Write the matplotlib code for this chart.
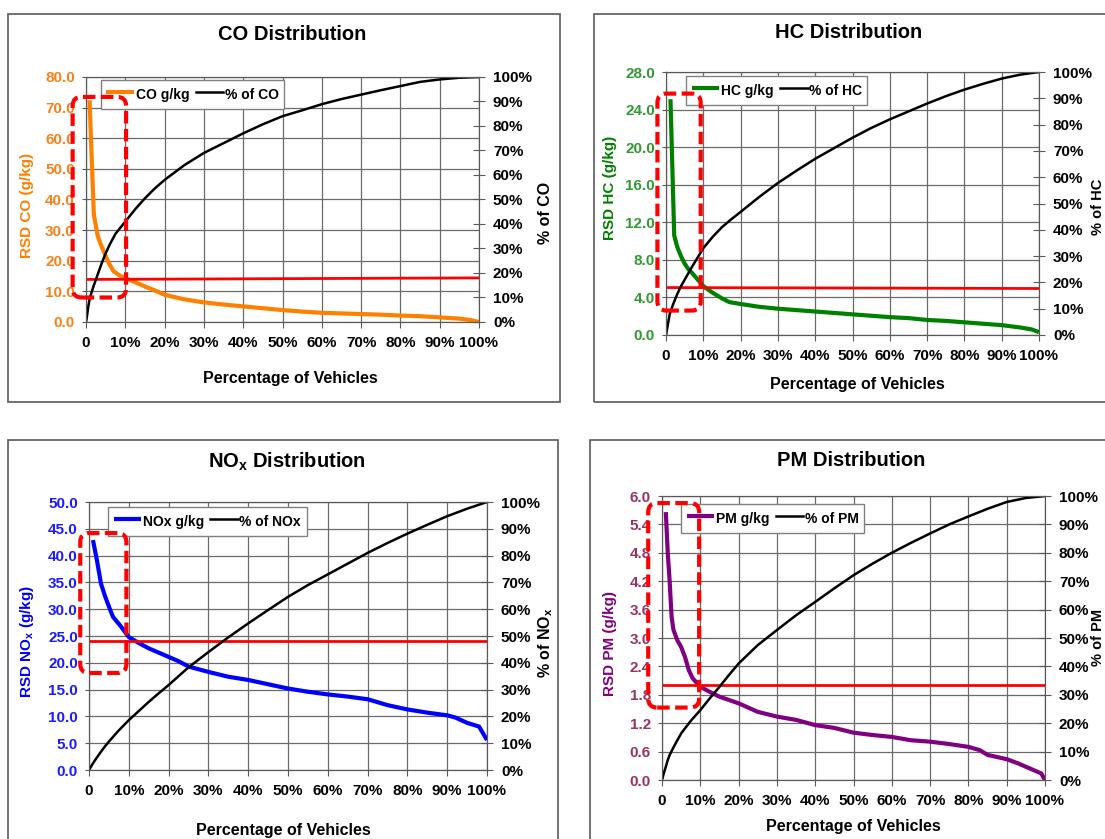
import matplotlib
matplotlib.use("Agg")
import matplotlib.pyplot as plt
import numpy as np
from matplotlib.patches import Rectangle, FancyBboxPatch
from matplotlib.transforms import IdentityTransform

plt.rcParams['font.family'] = ['Liberation Sans', 'DejaVu Sans']
plt.rcParams['font.weight'] = 'bold'
plt.rcParams['mathtext.fontset'] = 'custom'
plt.rcParams['mathtext.rm'] = 'Liberation Sans:bold'
plt.rcParams['mathtext.default'] = 'rm'

W, H = 1105, 839

# x axis (percentage of vehicles)
pct_ticks = list(range(0, 101, 10))
x_labels = ['0'] + ['%d%%' % p for p in pct_ticks[1:]]
right_labels = ['%d%%' % p for p in pct_ticks]

# CO
co_x = [0.9, 2.0, 3.0, 4.0, 5.0, 6.0, 7.0, 8.5, 10, 12.5, 15, 17.5, 20, 25, 30, 35, 40, 45,
        50, 55, 60, 65, 70, 75, 80, 85, 90, 95, 98, 100]
co_y = [72.4, 35.0, 28.0, 24.6, 21.5, 18.8, 16.6, 15.2, 14.3, 13.0, 11.6, 10.3, 8.9, 7.4, 6.4,
        5.7, 5.1, 4.5, 3.9, 3.4, 3.0, 2.8, 2.6, 2.4, 2.1, 1.9, 1.5, 1.1, 0.6, 0.0]
co_cum_x = [0, 0.3, 0.6, 1, 1.5, 2, 3, 4, 5, 6, 7.5, 10, 12.5, 15, 17.5, 20, 25, 30, 35, 40,
            45, 50, 55, 60, 65, 70, 75, 80, 85, 90, 95, 100]
co_cum_y = [0, 3, 6.5, 10, 12.5, 15, 19.5, 24, 28, 31.5, 36, 41, 46, 50.5, 54.5, 58, 64, 69,
            73, 77, 80.7, 84, 86.4, 88.9, 91, 92.8, 94.6, 96.3, 98, 99, 99.7, 100]
co_ref = [13.9, 14.4]

# HC
hc_x = [1.2, 2.2, 3, 4, 5, 6, 7, 8.5, 10, 12.5, 15, 17, 20, 25, 30, 35, 40, 45, 50, 55, 60,
        65, 70, 75, 80, 85, 90, 95, 98, 100]
hc_y = [25.1, 10.6, 9.4, 8.4, 7.6, 7.0, 6.6, 5.9, 5.2, 4.5, 3.9, 3.5, 3.3, 3.0, 2.8, 2.65, 2.5,
        2.35, 2.2, 2.05, 1.9, 1.8, 1.6, 1.5, 1.35, 1.2, 1.05, 0.8, 0.6, 0.3]
hc_cum_x = [0, 0.5, 1, 2, 3, 4, 5, 6, 7, 8.5, 10, 12.5, 15, 17.5, 20, 25, 30, 35, 40, 45, 50,
            55, 60, 65, 70, 75, 80, 85, 90, 95, 100]
hc_cum_y = [0, 4, 8, 12, 15.5, 18.5, 21, 23.5, 26, 29.5, 33, 37.3, 41, 44, 46.8, 52.5, 57.8,
            62.5, 67, 71, 75, 78.7, 82, 85, 88, 90.8, 93.3, 95.5, 97.5, 99, 100]
hc_ref = [5.05, 4.95]

# NOx
nox_x = [1, 2, 3, 4, 5, 6, 8, 10, 12.5, 15, 17.5, 20, 22.5, 25, 27.5, 30, 35, 40, 45, 50, 55,
         60, 65, 70, 75, 80, 85, 90, 92, 95, 98, 100]
nox_y = [42.9, 39.1, 34.8, 32.5, 30.5, 28.6, 26.8, 24.8, 23.7, 22.7, 21.9, 21.1, 20.3, 19.3,
         18.8, 18.3, 17.4, 16.8, 16.0, 15.2, 14.6, 14.1, 13.7, 13.2, 12.1, 11.3, 10.7, 10.2, 9.8,
         8.8, 8.1, 5.6]
nox_cum_x = [0, 1, 2, 3, 4, 5, 6, 7.5, 10, 12.5, 15, 17.5, 20, 25, 30, 35, 40, 45, 50, 55, 60,
             65, 70, 75, 80, 85, 90, 95, 100]
nox_cum_y = [0, 2.5, 4.7, 6.8, 8.8, 10.6, 12.3, 14.8, 18.6, 22, 25.4, 28.6, 31.7, 38.3, 44,
             49.5, 54.7, 59.7, 64.6, 69, 73, 77, 81, 84.7, 88.2, 91.5, 94.7, 97.5, 100]
nox_ref = [24.1, 24.1]

# PM
pm_x = [1.0, 1.5, 2.0, 2.5, 3.0, 4.0, 5.0, 6.0, 7.0, 8.0, 10, 12.5, 15, 20, 25, 30, 35, 40, 45,
        50, 55, 60, 65, 70, 75, 80, 83, 85, 90, 93, 97, 99, 100]
pm_y = [5.66, 4.8, 4.2, 3.45, 3.17, 2.95, 2.81, 2.6, 2.32, 2.15, 1.97, 1.86, 1.76, 1.62, 1.44,
        1.34, 1.27, 1.16, 1.10, 1.00, 0.95, 0.91, 0.84, 0.81, 0.76, 0.70, 0.63, 0.53, 0.44, 0.35,
        0.21, 0.14, 0.0]
pm_cum_x = [0, 0.5, 1, 1.5, 2, 3, 4, 5, 7.5, 10, 12.5, 15, 17.5, 20, 25, 30, 35, 40, 45, 50,
            55, 60, 65, 70, 75, 80, 85, 90, 95, 100]
pm_cum_y = [0, 2.5, 4.7, 7, 8.8, 11.5, 14, 16.4, 20.8, 24.6, 28.8, 32.8, 37, 41, 47.5, 52.8,
            58, 62.7, 67.5, 72.1, 76.2, 80, 83.5, 86.8, 90, 92.8, 95.5, 97.9, 99.3, 100]
pm_ref = [2.0, 2.0]


def fx(x):
    return x / W


def fy(y):
    return 1 - y / H


def panel(fig, box, area, ymax, ystep, x, y, cx, cy, ref, color, tickcolor, name, title,
          ylabel, rlabel, legpos, hilite, labels_at, rsize=11.5):
    # border of the chart object
    x0, y0, x1, y1 = box
    fig.add_artist(Rectangle((fx(x0), fy(y1)), (x1 - x0) / W, (y1 - y0) / H,
                             transform=fig.transFigure, fill=False, ec='#595959', lw=1.2))
    l, t, r, b = area
    ax = fig.add_axes([fx(l), fy(b), (r - l) / W, (b - t) / H])
    ax.set_xlim(0, 100)
    ax.set_ylim(0, ymax)
    yt = np.arange(0, ymax + ystep / 2, ystep)
    ax.set_yticks(yt)
    ax.set_yticklabels(['%.1f' % v for v in yt])
    ax.set_xticks(pct_ticks)
    ax.set_xticklabels(x_labels)
    ax.grid(True, color='#6a6a6a', lw=0.9)
    ax.set_axisbelow(True)
    for s in ax.spines.values():
        s.set_color('#595959')
    ax.tick_params(axis='y', direction='out', length=3, pad=5, labelsize=11,
                   labelcolor=tickcolor, color='#595959')
    ax.tick_params(axis='x', direction='out', length=4, pad=6, labelsize=11,
                   color='#595959')

    l1, = ax.plot(x, y, color=color, lw=3, solid_capstyle='butt', label=name + ' g/kg')
    ax.plot([0, 100], ref, color='#ff0000', lw=2)

    ax2 = ax.twinx()
    ax2.set_ylim(0, 100)
    ax2.set_yticks(pct_ticks)
    ax2.set_yticklabels(right_labels)
    ax2.tick_params(axis='y', direction='inout', length=8, pad=6, labelsize=11,
                    color='#595959')
    for s in ax2.spines.values():
        s.set_color('#595959')
    l2, = ax2.plot(cx, cy, color='black', lw=1.8, label='% of ' + name)

    ax2.legend([l1, l2], [l1.get_label(), l2.get_label()], loc='upper left',
               bbox_to_anchor=legpos, ncol=2, frameon=True, fancybox=False,
               edgecolor='#808080', framealpha=1, prop=dict(weight='bold', size=10),
               handlelength=2.0, handleheight=1.6, handletextpad=0.1, columnspacing=0.45,
               borderpad=0.4, borderaxespad=0)

    # red dashed highlight box
    hx0, hy0, hx1, hy1 = hilite
    p0 = ax.transData.transform((hx0, hy0))
    p1 = ax.transData.transform((hx1, hy1))
    fig.add_artist(FancyBboxPatch((p0[0], p0[1]), p1[0] - p0[0], p1[1] - p0[1],
                                  boxstyle='round,pad=0,rounding_size=9',
                                  transform=IdentityTransform(), fill=False, ec='#ff0000',
                                  lw=3, ls=(0, (3, 1.3)), zorder=5))

    tx, ty, xlx, xly, ylx, yly, rlx, rly = labels_at
    fig.text(fx(tx), fy(ty), title, ha='center', va='center', fontsize=14.5, weight='bold')
    fig.text(fx(xlx), fy(xly), 'Percentage of Vehicles', ha='center', va='center',
             fontsize=11.5, weight='bold')
    fig.text(fx(ylx), fy(yly), ylabel, ha='center', va='center', rotation=90,
             fontsize=11, weight='bold', color=color)
    fig.text(fx(rlx), fy(rly), rlabel, ha='center', va='center', rotation=90,
             fontsize=rsize, weight='bold')


fig = plt.figure(figsize=(W / 100, H / 100), dpi=100)
fig.patch.set_facecolor('white')

panel(fig, (8, 14, 560, 402), (86, 77, 479, 322), 80, 10, co_x, co_y, co_cum_x, co_cum_y,
      co_ref, '#ff7f00', '#f7821b', 'CO', 'CO Distribution', 'RSD CO (g/kg)', '% of CO',
      (0.038, 0.988), (-3.4, 8.0, 10.2, 73.5),
      (292, 35, 290, 379, 27, 205, 546, 213))

panel(fig, (594, 14, 1120, 402), (666, 72, 1039, 335), 28, 4, hc_x, hc_y, hc_cum_x, hc_cum_y,
      hc_ref, '#008000', '#339933', 'HC', 'HC Distribution', 'RSD HC (g/kg)', '% of HC',
      (0.054, 0.985), (-2.3, 2.6, 9.3, 25.7),
      (849, 32, 857, 384, 610, 188, 1098, 207), rsize=10.5)

panel(fig, (8, 440, 558, 860), (89, 502, 487, 770), 50, 5, nox_x, nox_y, nox_cum_x, nox_cum_y,
      nox_ref, '#0000ff', '#1c1cff', 'NOx', r'NO$_\mathregular{x}$ Distribution',
      r'RSD NO$_\mathregular{x}$ (g/kg)', r'% of NO$_\mathregular{x}$',
      (0.048, 0.981), (-2.2, 18.1, 9.4, 44.2),
      (287, 462, 283, 830, 27, 642, 546, 643))

panel(fig, (590, 440, 1120, 860), (662, 496, 1045, 780), 6, 0.6, pm_x, pm_y, pm_cum_x, pm_cum_y,
      pm_ref, '#800080', '#993366', 'PM', 'PM Distribution', 'RSD PM (g/kg)', '% of PM',
      (0.05, 0.972), (-3.6, 1.53, 9.7, 5.85),
      (851, 460, 853, 826, 610, 643, 1098, 637), rsize=10.5)

fig.savefig('out.png', dpi=100)
